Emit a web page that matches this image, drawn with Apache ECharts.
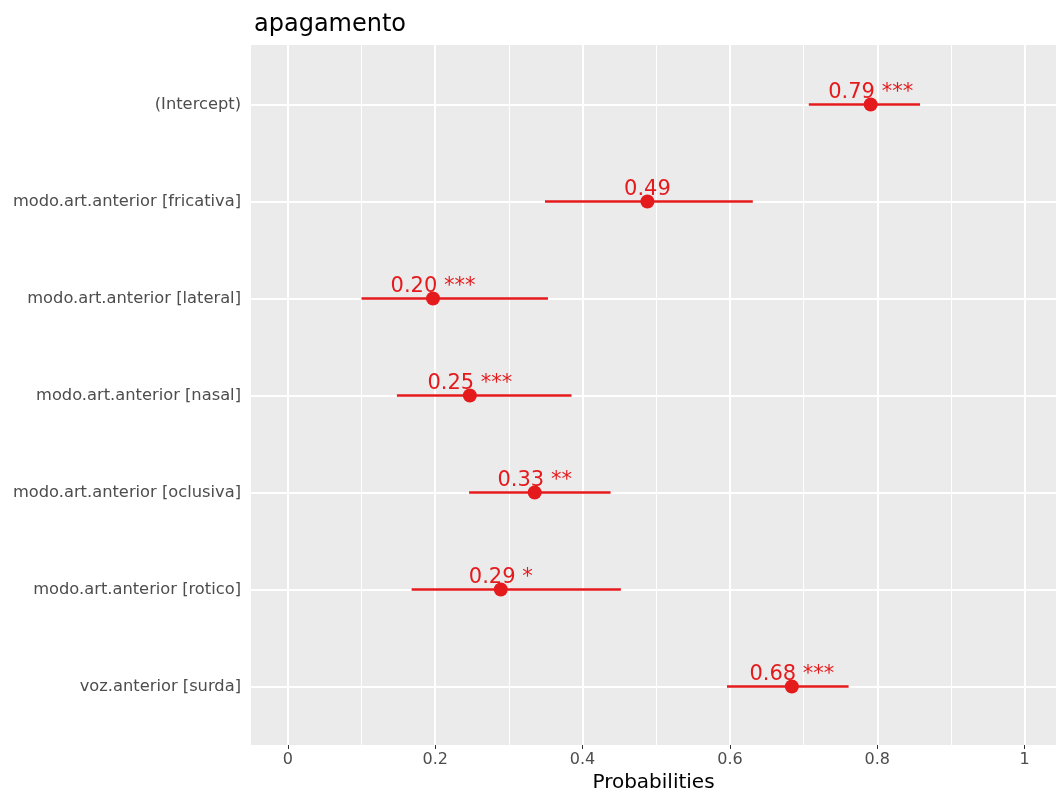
<!DOCTYPE html>
<html>
<head>
<meta charset="utf-8">
<script src="https://cdn.jsdelivr.net/npm/echarts@6/dist/echarts.min.js"></script>
<style>
html,body{margin:0;padding:0;background:#fff;}
#chart{width:1056px;height:791px;}
</style>
</head>
<body>
<div id="chart"></div>
<script>
const titleText = 'apagamento';
const xName = 'Probabilities';
const categories = [
  '(Intercept)',
  'modo.art.anterior [fricativa]',
  'modo.art.anterior [lateral]',
  'modo.art.anterior [nasal]',
  'modo.art.anterior [oclusiva]',
  'modo.art.anterior [rotico]',
  'voz.anterior [surda]'
];
const estimates = [0.791, 0.488, 0.197, 0.247, 0.335, 0.289, 0.684];
const lower     = [0.707, 0.349, 0.100, 0.148, 0.246, 0.168, 0.596];
const upper     = [0.858, 0.631, 0.353, 0.385, 0.438, 0.452, 0.761];
const pointLabels = ['0.79 ***', '0.49', '0.20 ***', '0.25 ***', '0.33 **', '0.29 *', '0.68 ***'];
const xTicks = [0, 0.2, 0.4, 0.6, 0.8, 1];
const xTickLabels = ['0', '0.2', '0.4', '0.6', '0.8', '1'];
const xMinorTicks = [0.1, 0.3, 0.5, 0.7, 0.9];
const xMin = -0.05, xMax = 1.0425;

const RED = '#E41A1C';
const FONT = 'DejaVu Sans';

const chart = echarts.init(document.getElementById('chart'), null, {renderer: 'canvas'});

const option = {
  animation: false,
  backgroundColor: '#ffffff',
  title: {
    text: titleText,
    left: 249, top: 8,
    textStyle: {fontFamily: FONT, fontSize: 24, fontWeight: 'normal', color: '#000'}
  },
  grid: [
    {left: 251, right: 0, top: 45, height: 700, show: true, backgroundColor: '#EBEBEB', borderWidth: 0, containLabel: false, outerBoundsMode: 'none'},
    {left: 251, right: 0, top: 56, height: 679, show: false, containLabel: false, outerBoundsMode: 'none'}
  ],
  xAxis: [
    {
      gridIndex: 0, type: 'value', min: xMin, max: xMax,
      axisLine: {show: false},
      splitLine: {show: false},
      axisTick: {show: true, length: 4, customValues: xTicks, lineStyle: {color: '#333333', width: 1}},
      axisLabel: {
        customValues: xTicks, margin: 7, color: '#4D4D4D', fontFamily: FONT, fontSize: 16,
        formatter: function (v) { const i = xTicks.findIndex(t => Math.abs(t - v) < 1e-9); return i >= 0 ? xTickLabels[i] : ''; }
      },
      name: xName, nameLocation: 'middle', nameGap: 25,
      nameTextStyle: {fontFamily: FONT, fontSize: 20, color: '#000'}
    },
    {
      gridIndex: 1, type: 'value', min: xMin, max: xMax, show: false,
      splitLine: {show: false}
    }
  ],
  yAxis: [
    {gridIndex: 0, type: 'value', min: 0, max: 1, show: false, splitLine: {show: false}},
    {
      gridIndex: 1, type: 'category', data: categories, inverse: true,
      axisLine: {show: false},
      axisTick: {show: true, length: 4, alignWithLabel: true, lineStyle: {color: '#333333', width: 1}},
      splitLine: {show: false},
      axisLabel: {color: '#4D4D4D', fontFamily: FONT, fontSize: 16.3, margin: 10}
    }
  ],
  series: [
    {
      type: 'scatter', xAxisIndex: 0, yAxisIndex: 0, data: [], silent: true, z: 1,
      markLine: {
        silent: true, symbol: 'none', label: {show: false}, animation: false,
        data: xMinorTicks.map(v => ({xAxis: v, lineStyle: {color: '#ffffff', width: 1, type: 'solid'}}))
          .concat(xTicks.map(v => ({xAxis: v, lineStyle: {color: '#ffffff', width: 2, type: 'solid'}})))
      }
    },
    {
      type: 'scatter', xAxisIndex: 1, yAxisIndex: 1, data: [], silent: true, z: 1,
      markLine: {
        silent: true, symbol: 'none', label: {show: false}, animation: false,
        data: categories.map(c => ({yAxis: c, lineStyle: {color: '#ffffff', width: 2, type: 'solid'}}))
      }
    },
    {
      type: 'custom', xAxisIndex: 1, yAxisIndex: 1, z: 5,
      data: categories.map((c, i) => [i, lower[i], upper[i], estimates[i]]),
      encode: {y: 0, x: [1, 2, 3]},
      renderItem: function (params, api) {
        const i = api.value(0);
        const a = api.coord([api.value(1), i]);
        const b = api.coord([api.value(2), i]);
        const p = api.coord([api.value(3), i]);
        return {
          type: 'group',
          children: [
            {type: 'line', shape: {x1: a[0], y1: a[1], x2: b[0], y2: b[1]}, style: {stroke: RED, lineWidth: 2.5}},
            {type: 'circle', shape: {cx: p[0], cy: p[1], r: 7}, style: {fill: RED}},
            {type: 'text', x: p[0], y: p[1] - 12, style: {text: pointLabels[params.dataIndex], fill: RED, font: '21px "DejaVu Sans"', align: 'center', verticalAlign: 'middle'}}
          ]
        };
      }
    }
  ]
};
chart.setOption(option);
</script>
</body>
</html>
